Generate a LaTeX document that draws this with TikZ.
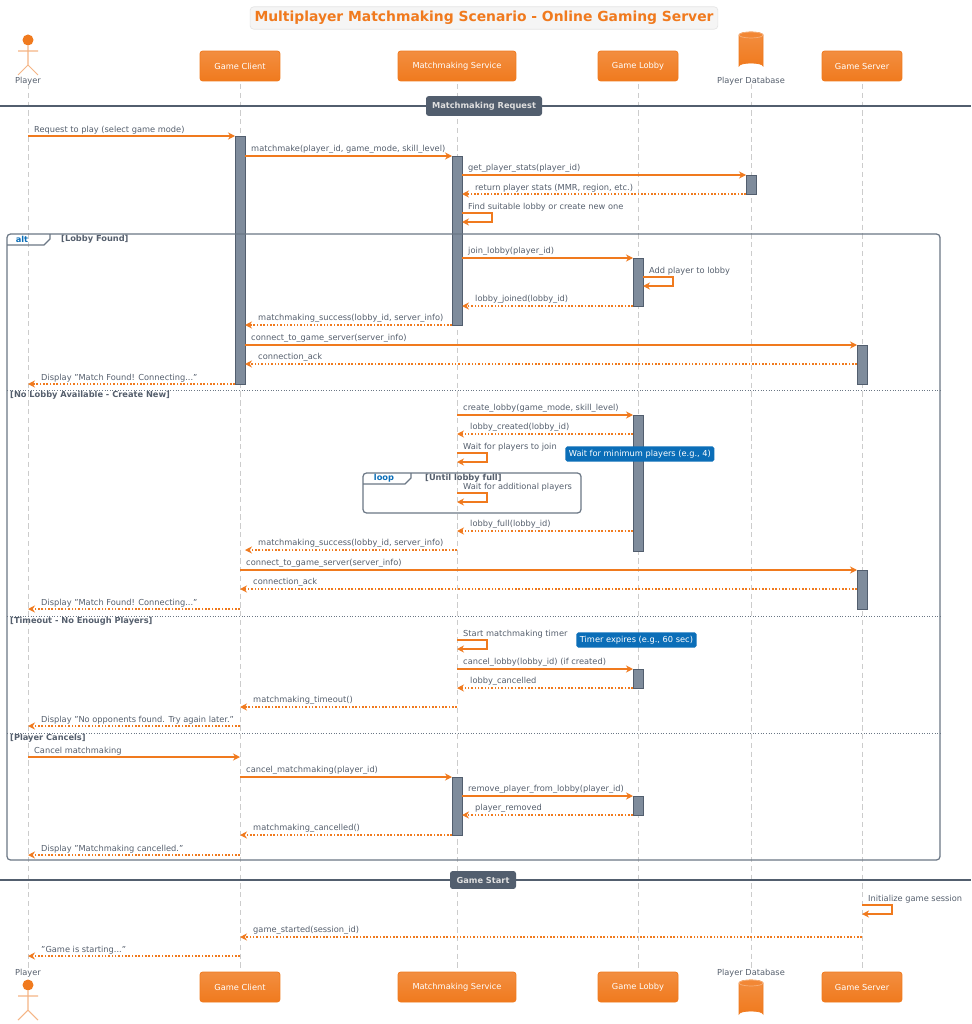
\documentclass[tikz,border=0pt]{standalone}
\usepackage{fontspec}
\setmainfont{DejaVu Sans}
\usetikzlibrary{arrows.meta,shapes.geometric}
\definecolor{orng}{HTML}{F07A1E}
\definecolor{orngl}{HTML}{F5B585}
\definecolor{txtgray}{HTML}{555F6D}
\definecolor{actgray}{HTML}{7F8C9C}
\definecolor{framegray}{HTML}{6B7785}
\definecolor{divgray}{HTML}{525E6E}
\definecolor{noteblue}{HTML}{0B6EB8}
\tikzset{
  msg/.style={draw=orng, line width=0.9pt, -{Stealth[length=4pt,width=4pt]}},
  ret/.style={msg, densely dotted},
  lbl/.style={text=txtgray, font=\fontsize{4.7}{5.6}\selectfont, inner sep=0.5pt},
  part/.style={rectangle, rounded corners=1.5pt, top color=orng!85!white, bottom color=orng,
    draw=orng, text=white, minimum width=1.6cm, minimum height=0.6cm,
    font=\fontsize{4.7}{5.6}\selectfont},
  lifeline/.style={draw=gray!40, densely dashed, line width=0.4pt},
  act/.style={fill=actgray, draw=divgray, line width=0.4pt},
  frame/.style={draw=framegray, line width=0.7pt, rounded corners=2pt},
  sep/.style={draw=framegray, densely dotted, line width=0.5pt},
  seplbl/.style={lbl, font=\fontsize{4.7}{5.6}\selectfont\bfseries, anchor=north west},
  note/.style={fill=noteblue, text=white, font=\fontsize{4.7}{5.6}\selectfont, inner sep=2pt,
    rounded corners=1pt},
}
% y: pixel row, x1 -> x2, label
\newcommand\msg[5]{%
  \pgfmathsetmacro\lx{ifthenelse(#4>#3, #3+5, #4+12)}%
  \draw[#1] (#3,#2) -- (#4,#2);
  \node[lbl, anchor=south west] at (\lx,#2-1) {#5};}
\newcommand\selfmsg[3]{%
  \draw[msg] (#2,#1) -- (#2+30,#1) -- (#2+30,#1+9) -- (#2,#1+9);
  \node[lbl, anchor=south west] at (#2+5,#1-1) {#3};}
\newcommand\actbar[3]{\draw[act] (#1-5,#2) rectangle (#1+5,#3);}
\newcommand\divider[4]{%
  \draw[divgray, line width=1.4pt] (0,#1) -- (971,#1);
  \node[fill=divgray, text=gray!25, rounded corners=1.5pt, minimum width=#3*0.02cm,
    minimum height=0.26cm, font=\fontsize{4.7}{5.6}\selectfont\bfseries] at (#2,#1) {#4};}
\newcommand\actor[2]{%
  \fill[orng] (#1,#2) circle (5.5);
  \draw[orngl, line width=0.6pt] (#1,#2+5.5) -- (#1,#2+25) (#1-10,#2+11) -- (#1+10,#2+11)
    (#1-10,#2+35) -- (#1,#2+25) -- (#1+10,#2+35);}
\newcommand\dbcyl[2]{%
  \draw[orng, top color=orng!85!white, bottom color=orng] (#1-12,#2+3) -- (#1-12,#2+34)
    arc[start angle=180, end angle=360, x radius=12, y radius=3] -- (#1+12,#2+3)
    arc[start angle=0, end angle=-180, x radius=12, y radius=3] -- cycle;
  \draw[orng!60!white, fill=orng!90!white] (#1,#2+3) ellipse[x radius=12, y radius=3];}
\begin{document}
\begin{tikzpicture}[x=0.02cm, y=-0.02cm]
\useasboundingbox[fill=white] (0,0) rectangle (971,1024);
% title
\node[fill=gray!8, draw=gray!20, rounded corners=2pt, text=orng, inner sep=2.5pt,
  font=\fontsize{7.9}{9.5}\selectfont\bfseries] (title) at (484,18)
  {Multiplayer Matchmaking Scenario - Online Gaming Server};
% lifelines
\foreach \x in {28,240,457,638,751,862}
  \draw[lifeline] (\x,84) -- (\x,968);
% participants top
\actor{28}{40}
\node[lbl] (player) at (28,81) {Player};
\node[part] (client) at (240,66) {Game Client};
\node[part, minimum width=2.36cm] (mm) at (457,66) {Matchmaking Service};
\node[part] (lobby) at (638,66) {Game Lobby};
\dbcyl{751}{32}
\node[lbl] (db) at (751,81) {Player Database};
\node[part] (server) at (862,66) {Game Server};
% participants bottom
\node[lbl] (playerb) at (28,973) {Player};
\actor{28}{985}
\node[part] (clientb) at (240,987) {Game Client};
\node[part, minimum width=2.36cm] (mmb) at (457,987) {Matchmaking Service};
\node[part] (lobbyb) at (638,987) {Game Lobby};
\node[lbl] (dbb) at (751,973) {Player Database};
\dbcyl{751}{980}
\node[part] (serverb) at (862,987) {Game Server};

\divider{106}{484}{116}{Matchmaking Request}
% activations
\actbar{240}{136}{384}
\actbar{457}{156}{325}
\actbar{751}{175}{194}
\actbar{638}{258}{306}
\actbar{862}{345}{384}
\actbar{638}{415}{551}
\actbar{862}{570}{609}
\actbar{638}{669}{688}
\actbar{457}{777}{835}
\actbar{638}{796}{815}

\msg{msg}{136}{28}{235}{Request to play (select game mode)}
\msg{msg}{156}{245}{452}{matchmake(player\_id, game\_mode, skill\_level)}
\msg{msg}{175}{462}{746}{get\_player\_stats(player\_id)}
\msg{ret}{194}{746}{462}{return player stats (MMR, region, etc.)}
\selfmsg{213}{462}{Find suitable lobby or create new one}

% alt frame
\draw[frame] (7,234) rectangle (940,860);
\draw[frame, rounded corners=0pt] (7,245) -- (44,245) -- (50,239) -- (50,234);
\node[lbl, text=noteblue, font=\fontsize{4.7}{5.6}\selectfont\bfseries] (alttag) at (22,239.5) {alt};
\node[seplbl] (g1) at (60,234) {[Lobby Found]};
\msg{msg}{258}{462}{633}{join\_lobby(player\_id)}
\selfmsg{277}{643}{Add player to lobby}
\msg{ret}{306}{633}{462}{lobby\_joined(lobby\_id)}
\msg{ret}{325}{452}{245}{matchmaking\_success(lobby\_id, server\_info)}
\msg{msg}{345}{245}{857}{connect\_to\_game\_server(server\_info)}
\msg{ret}{364}{857}{245}{connection\_ack}
\msg{ret}{384}{235}{28}{Display "Match Found! Connecting..."}

\draw[sep] (7,390) -- (940,390);
\node[seplbl] (g2) at (9,390) {[No Lobby Available - Create New]};
\msg{msg}{415}{457}{633}{create\_lobby(game\_mode, skill\_level)}
\msg{ret}{434}{633}{457}{lobby\_created(lobby\_id)}
\selfmsg{453}{457}{Wait for players to join}
\node[note, anchor=west] (n1) at (565,454) {Wait for minimum players (e.g., 4)};
\draw[frame] (363,473) rectangle (581,513);
\draw[frame, rounded corners=0pt] (363,484) -- (405,484) -- (411,478) -- (411,473);
\node[lbl, text=noteblue, font=\fontsize{4.7}{5.6}\selectfont\bfseries] (looptag) at (384,478.5) {loop};
\node[seplbl] (g5) at (424,473) {[Until lobby full]};
\selfmsg{493}{457}{Wait for additional players}
\msg{ret}{531}{633}{457}{lobby\_full(lobby\_id)}
\msg{ret}{550}{457}{245}{matchmaking\_success(lobby\_id, server\_info)}
\msg{msg}{570}{240}{857}{connect\_to\_game\_server(server\_info)}
\msg{ret}{589}{857}{240}{connection\_ack}
\msg{ret}{609}{240}{28}{Display "Match Found! Connecting..."}

\draw[sep] (7,616) -- (940,616);
\node[seplbl] (g3) at (9,616) {[Timeout - No Enough Players]};
\selfmsg{640}{457}{Start matchmaking timer}
\node[note, anchor=west] (n2) at (576,640) {Timer expires (e.g., 60 sec)};
\msg{msg}{669}{457}{633}{cancel\_lobby(lobby\_id) (if created)}
\msg{ret}{688}{633}{457}{lobby\_cancelled}
\msg{ret}{707}{457}{240}{matchmaking\_timeout()}
\msg{ret}{726}{240}{28}{Display "No opponents found. Try again later."}

\draw[sep] (7,733) -- (940,733);
\node[seplbl] (g4) at (9,733) {[Player Cancels]};
\msg{msg}{757}{28}{240}{Cancel matchmaking}
\msg{msg}{777}{240}{452}{cancel\_matchmaking(player\_id)}
\msg{msg}{796}{462}{633}{remove\_player\_from\_lobby(player\_id)}
\msg{ret}{815}{633}{462}{player\_removed}
\msg{ret}{835}{452}{240}{matchmaking\_cancelled()}
\msg{ret}{855}{240}{28}{Display "Matchmaking cancelled."}

\divider{880}{483}{66}{Game Start}
\selfmsg{905}{862}{Initialize game session}
\msg{ret}{937}{862}{240}{game\_started(session\_id)}
\msg{ret}{956}{240}{28}{"Game is starting..."}
\end{tikzpicture}
\end{document}
